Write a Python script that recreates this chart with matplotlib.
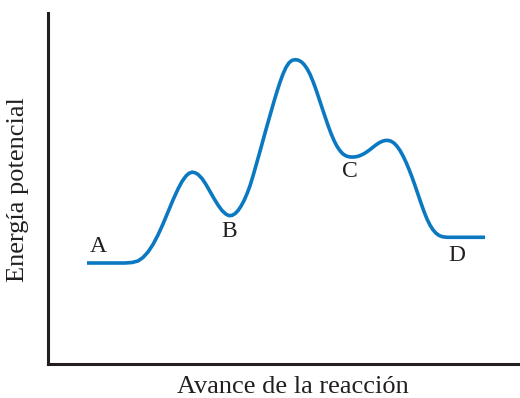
import matplotlib
matplotlib.use("Agg")
import matplotlib.pyplot as plt

# ======================================
# DATA
# ======================================

avance = [39, 62, 77, 84, 90, 95, 100, 105, 110, 115, 120, 125, 130, 134,
          138, 141, 144, 147, 150, 154, 158, 162, 166, 170, 174, 178, 181,
          184, 187, 190, 193, 196, 199, 202, 205, 208, 211, 214, 218, 222,
          226, 229, 232, 235, 238, 241, 244, 247, 250, 253, 256, 259, 262,
          265, 268, 271, 274, 277, 280, 283, 286, 289, 292, 295, 298, 301,
          304, 307, 310, 313, 316, 319, 322, 325, 328, 331, 334, 337, 340,
          343, 346, 349, 352, 355, 358, 361, 364, 367, 370, 373, 376, 379,
          382, 385, 388, 391, 394, 397, 400, 437]

energia = [101, 101, 101, 101.5, 103, 106.5, 112, 119.5, 129, 140, 152, 164,
           175, 182.5, 188, 190.7, 191.8, 191.3, 189.6, 185.5, 179.5, 172.5,
           165.5, 159, 153.5, 149.8, 148.4, 148.6, 150.3, 153.4, 157.8,
           163.4, 170.2, 178.2, 188, 198.5, 209.2, 220, 234.5, 248.6, 262.6,
           272.5, 281.8, 290, 296.6, 301.2, 303.6, 304.3, 303.9, 302.4,
           299.6, 295.4, 289.7, 282.6, 274.4, 265.5, 256.4, 247.4, 238.7,
           230.6, 223.5, 217.7, 213.2, 210, 208.1, 207.2, 206.9, 207.1,
           207.7, 208.8, 210.3, 212.2, 214.4, 216.8, 219.1, 221.1, 222.6,
           223.5, 223.6, 222.8, 220.9, 217.8, 213.5, 208.1, 201.8, 194.7,
           186.9, 178.5, 169.7, 160.9, 152.5, 145, 138.9, 134.2, 130.8,
           128.6, 127.4, 126.9, 126.7, 126.7]

etiquetas = ["A", "B", "C", "D"]
etiqueta_x = [50, 181, 302, 409]
etiqueta_y = [117, 132, 192, 108]

# ======================================
# FIGURE
# ======================================

plt.rcParams["font.family"] = ["Liberation Serif", "DejaVu Serif"]

fig = plt.figure(figsize=(5.2, 3.98), dpi=100)
ax = fig.add_axes([0.0923, 0.0854, 0.9077, 0.882])

ax.plot(avance, energia, color="#0a79c1", linewidth=2.6,
        solid_capstyle="butt", solid_joinstyle="round")

for texto, x, y in zip(etiquetas, etiqueta_x, etiqueta_y):
    ax.text(x, y, texto, fontsize=17, color="#231f20",
            ha="center", va="center")

ax.set_xlim(0, 472)
ax.set_ylim(0, 351)

for lado in ["top", "right"]:
    ax.spines[lado].set_visible(False)
for lado in ["left", "bottom"]:
    ax.spines[lado].set_linewidth(2.2)
    ax.spines[lado].set_color("#231f20")

ax.set_xticks([])
ax.set_yticks([])

fig.text(0.563, 0.027, "Avance de la reacción", fontsize=19,
         color="#231f20", ha="center", va="center")
fig.text(0.035, 0.523, "Energía potencial", fontsize=19,
         color="#231f20", ha="center", va="center", rotation=90)

fig.savefig("out.png", dpi=100)
